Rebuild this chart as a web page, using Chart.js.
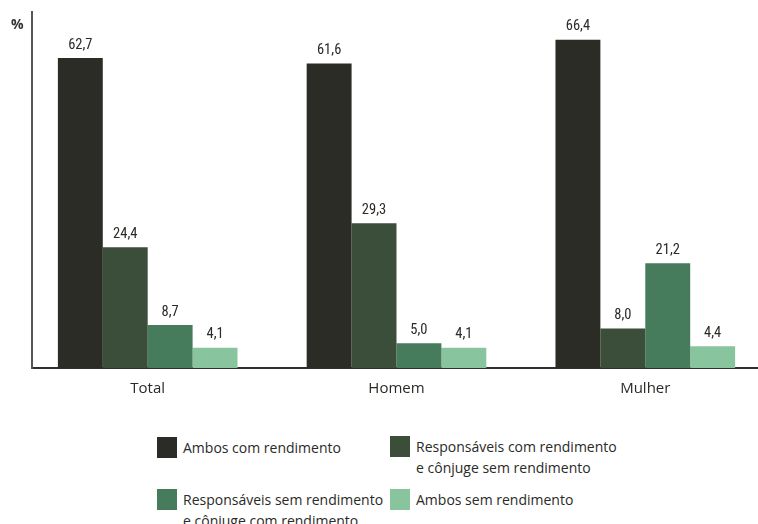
<!DOCTYPE html>
<html>
<head>
<meta charset="utf-8">
<script src="https://cdn.jsdelivr.net/npm/chart.js@4.4.1/dist/chart.umd.min.js"></script>
<style>
  html, body { margin: 0; padding: 0; background: #ffffff; }
  body { width: 758px; height: 524px; position: relative; overflow: hidden; font-family: "Open Sans", sans-serif; color: #2a2a26; }
  #wrap { position: absolute; left: 0; top: 0; width: 758px; height: 410px; }
  #pct { position: absolute; left: 11px; top: 14px; font: bold 14px "Open Sans", sans-serif; color: #333; }
  .leg { position: absolute; display: flex; align-items: flex-start; font-size: 14px; line-height: 21px; color: #2a2a26; }
  .leg .box { width: 20px; height: 21px; margin-right: 6px; flex: none; }
</style>
</head>
<body>
<div id="wrap"><canvas id="c"></canvas></div>
<div id="pct">%</div>
<div id="legend"></div>
<script>
const categories = ["Total", "Homem", "Mulher"];
const seriesNames = [
  "Ambos com rendimento",
  "Responsáveis com rendimento\ne cônjuge sem rendimento",
  "Responsáveis sem rendimento\ne cônjuge com rendimento",
  "Ambos sem rendimento"
];
const ambosCom = [62.7, 61.6, 66.4];
const respComConjSem = [24.4, 29.3, 8.0];
const respSemConjCom = [8.7, 5.0, 21.2];
const ambosSem = [4.1, 4.1, 4.4];
const seriesColors = ["#2a2c25", "#3b4e39", "#467b5b", "#88c59e"];

const seriesValues = [ambosCom, respComConjSem, respSemConjCom, ambosSem];

const datasets = seriesValues.map((vals, i) => ({
  label: seriesNames[i],
  data: vals.map((v, k) => ({ x: k, y: v })),
  backgroundColor: seriesColors[i],
  borderWidth: 0,
  categoryPercentage: 0.722,
  barPercentage: 1.0
}));

const valueLabels = {
  id: 'valueLabels',
  afterDatasetsDraw(chart) {
    const ctx = chart.ctx;
    ctx.save();
    ctx.font = '14.5px "Roboto Condensed", "Liberation Sans Narrow", Roboto, sans-serif';
    ctx.fillStyle = '#2a2a26';
    ctx.textAlign = 'center';
    ctx.textBaseline = 'middle';
    chart.data.datasets.forEach((ds, i) => {
      const meta = chart.getDatasetMeta(i);
      meta.data.forEach((bar, k) => {
        const v = seriesValues[i][k];
        ctx.fillText(v.toFixed(1).replace('.', ','), bar.x, bar.y - 13);
      });
    });
    ctx.restore();
  }
};

new Chart(document.getElementById('c'), {
  type: 'bar',
  data: { datasets },
  options: {
    responsive: true,
    maintainAspectRatio: false,
    animation: false,
    layout: { padding: { left: 32, right: 0, top: 12, bottom: 0 } },
    plugins: { legend: { display: false }, tooltip: { enabled: false } },
    scales: {
      x: {
        type: 'linear',
        min: -0.465,
        max: 2.453,
        offset: false,
        grid: { display: false, drawTicks: false },
        border: { display: true, color: '#2f2f2f', width: 2 },
        afterBuildTicks(scale) { scale.ticks = categories.map((c, i) => ({ value: i })); },
        ticks: {
          autoSkip: false,
          maxRotation: 0,
          padding: 12,
          color: '#2a2a26',
          font: { family: '"Open Sans", sans-serif', size: 15 },
          callback: (v) => categories[v]
        }
      },
      y: {
        min: 0,
        max: 72,
        grid: { display: false, drawTicks: false },
        border: { display: true, color: '#555555', width: 2 },
        ticks: { display: false }
      }
    }
  },
  plugins: [valueLabels]
});

const legendPos = [
  { left: 157, top: 437 },
  { left: 390, top: 436 },
  { left: 157, top: 489 },
  { left: 390, top: 489 }
];
const legendEl = document.getElementById('legend');
seriesNames.forEach((name, i) => {
  const item = document.createElement('div');
  item.className = 'leg';
  item.style.left = legendPos[i].left + 'px';
  item.style.top = legendPos[i].top + 'px';
  const box = document.createElement('div');
  box.className = 'box';
  box.style.background = seriesColors[i];
  const txt = document.createElement('div');
  txt.innerHTML = name.split('\n').join('<br>');
  item.appendChild(box);
  item.appendChild(txt);
  legendEl.appendChild(item);
});
</script>
</body>
</html>
